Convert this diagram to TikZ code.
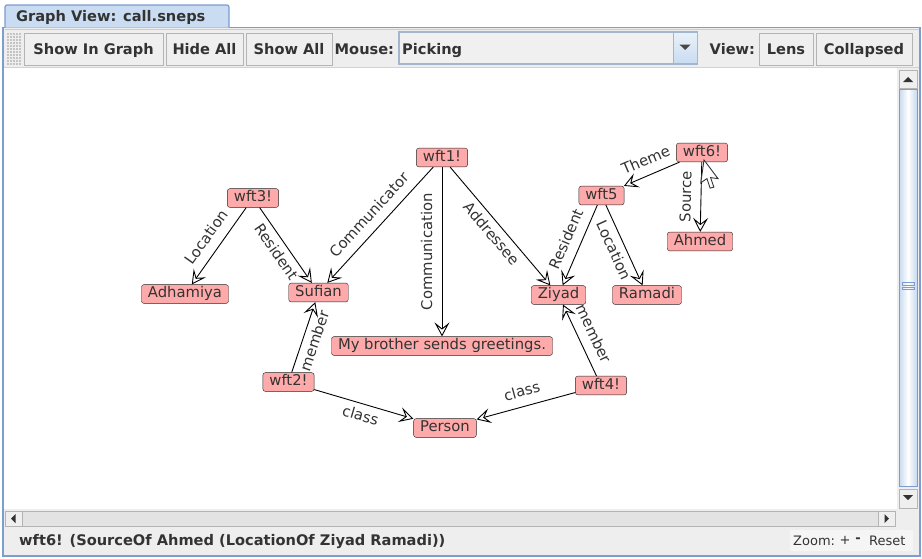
\documentclass[tikz,border=0pt]{standalone}
\usepackage{fontspec}
\setmainfont{DejaVu Sans}
\usetikzlibrary{arrows.meta}

\definecolor{vpink}{HTML}{FFAAAA}
\definecolor{txtgray}{HTML}{333333}
\definecolor{framblue}{HTML}{7D9CCF}
\definecolor{tabblue}{HTML}{C9DCF1}
\definecolor{panelgray}{HTML}{EEEEEE}
\definecolor{btnfill}{HTML}{EFEFEF}
\definecolor{btnedge}{HTML}{B4B4B4}
\definecolor{trackblue}{HTML}{C6D8EE}
\definecolor{combofill}{HTML}{F0F0F0}
\definecolor{comboedge}{HTML}{A3B6D0}
\definecolor{gripgray}{HTML}{C4C4C4}

\newcommand{\gfont}{\fontsize{14.8}{17}\selectfont}
\newcommand{\tbfont}{\fontsize{14.6}{17}\selectfont\bfseries}

\tikzset{
  vert/.style={draw=black!85, fill=vpink, rounded corners=2.5pt, text=txtgray,
    font=\gfont, inner xsep=6.5pt, inner ysep=2.5pt, text height=10.8pt, text depth=3pt},
  lbl/.style={font=\gfont, text=txtgray, inner xsep=0pt, inner ysep=7.5pt,
    text height=9pt, text depth=2pt},
  link/.style={draw=black, line width=0.9pt,
    -{Stealth[open, length=14pt, width=15pt, inset=6pt]}},
  btn/.style={draw=btnedge, fill=btnfill, minimum height=32pt, inner sep=0pt,
    font=\tbfont, text=txtgray, text height=10.5pt, text depth=0pt},
  tblabel/.style={anchor=west, inner sep=0pt, font=\tbfont, text=txtgray,
    text height=10.5pt, text depth=0pt},
  scrollbtn/.style={draw=btnedge, fill=btnfill},
}

\begin{document}
\begin{tikzpicture}[x=1pt, y=-1pt]
\useasboundingbox (0,0) rectangle (922,558);
\fill[white] (0,0) rectangle (922,558);

% window frame and tab
\fill[panelgray] (3,27.5) rectangle (920,556);
\draw[framblue, line width=1.2pt] (3,27.5) rectangle (920,556);
\draw[framblue!50, line width=1pt] (4.5,29) -- (918.5,29);
\draw[framblue, line width=1.2pt, fill=tabblue, rounded corners=2pt]
  (5,27.5) -- (5,5) -- (229,5) [sharp corners] -- (229,27.5);
\node[tblabel] (tabtitle) at (16,16.5) {Graph View: call.sneps};

% toolbar
\draw[btnedge!60] (4,67) -- (919,67);
\foreach \gx in {0,...,4}
  \foreach \gy in {0,...,10}
    \fill[gripgray] (7+3*\gx,33+3*\gy) rectangle ++(1.6,1.6);
\node[btn, minimum width=139pt] (showgraph) at (93.5,49) {Show In Graph};
\node[btn, minimum width=77pt] (hideall) at (204.5,49) {Hide All};
\node[btn, minimum width=86pt] (showall) at (289,49) {Show All};
\node[tblabel] (mouselbl) at (334.5,49) {Mouse:};
\node[draw=comboedge, fill=combofill, minimum width=298pt, minimum height=32pt,
  inner sep=0pt, line width=1.2pt] (combo) at (548,48) {};
\shade[top color=tabblue!40, bottom color=tabblue] (673,33) rectangle (697,63);
\draw[comboedge, line width=1pt] (673,32.5) rectangle (697,63.5);
\fill[txtgray!90] (679.5,44.5) -- (690.5,44.5) -- (685,50) -- cycle;
\node[tblabel] (mousemode) at (402,49) {Picking};
\node[tblabel] (viewlbl) at (709.5,49) {View:};
\node[btn, minimum width=54pt] (lens) at (786,49) {Lens};
\node[btn, minimum width=96pt] (collapsed) at (864,49) {Collapsed};

% canvas
\fill[white] (4,68) rectangle (897,509);

% vertical scrollbar
\draw[scrollbtn] (899,70) rectangle (917,88);
\fill[txtgray] (903,82) -- (913,82) -- (908,77) -- cycle;
\shade[left color=trackblue, right color=trackblue, middle color=white] (899,89) rectangle (917,486);
\draw[framblue] (899,89) rectangle (917,486);
\draw[framblue] (902,282.5) rectangle (914,285);
\draw[framblue] (902,287) rectangle (914,289.5);
\draw[scrollbtn] (899,489) rectangle (917,508);
\fill[txtgray] (903,495) -- (913,495) -- (908,500) -- cycle;

% horizontal scrollbar
\fill[btnfill!95!black] (22,511) rectangle (878,526);
\draw[btnedge] (22,511) rectangle (878,526);
\draw[scrollbtn] (5,511) rectangle (22,526);
\fill[txtgray] (11,518.5) -- (15.5,514) -- (15.5,523) -- cycle;
\draw[scrollbtn] (878,511) rectangle (895,526);
\fill[txtgray] (889,518.5) -- (884.5,514) -- (884.5,523) -- cycle;

% status bar
\node[tblabel] (status) at (19,540.5) {wft6! (SourceOf Ahmed (LocationOf Ziyad Ramadi))};
\fill[btnfill!60!white] (790,530) rectangle (913,551);
\node[anchor=west, inner sep=0pt, font=\fontsize{13}{15}\selectfont, text=txtgray]
  (zoomlbl) at (793,541) {Zoom:};
\node[inner sep=0pt, font=\fontsize{13}{15}\selectfont, text=txtgray] (zoomin) at (845,540) {+};
\node[inner sep=0pt, font=\fontsize{13}{15}\selectfont\bfseries, text=txtgray] (zoomout) at (858,540) {-};
\node[anchor=west, inner sep=0pt, font=\fontsize{13}{15}\selectfont, text=txtgray]
  (zoomreset) at (869,541) {Reset};

% graph nodes
\node[vert] (wft1) at (442,157.5) {wft1!};
\node[vert] (wft3) at (253,198) {wft3!};
\node[vert] (adhamiya) at (185,294) {Adhamiya};
\node[vert] (sufian) at (318.5,292.5) {Sufian};
\node[vert] (msg) at (442,346) {My brother sends greetings.};
\node[vert] (wft2) at (288.5,382) {wft2!};
\node[vert] (person) at (445,428) {Person};
\node[vert] (wft4) at (601,385.5) {wft4!};
\node[vert] (ziyad) at (558.5,295) {Ziyad};
\node[vert] (ramadi) at (647,295) {Ramadi};
\node[vert] (wft5) at (601.5,195.5) {wft5};
\node[vert] (wft6) at (702,152.5) {wft6!};
\node[vert] (ahmed) at (700,241.5) {Ahmed};

% graph edges
\draw[link] (wft1) -- node[lbl, sloped, above] {Communicator} (sufian);
\draw[link] (wft1) -- node[lbl, rotate=90, anchor=south] {Communication} (msg);
\draw[link] (wft1) -- node[lbl, sloped, below] {Addressee} (ziyad);
\draw[link] (wft3) -- node[lbl, sloped, above] {Location} (adhamiya);
\draw[link] (wft3) -- node[lbl, sloped, below] {Resident} (sufian);
\draw[link] (wft2) -- node[lbl, sloped, below] {member} (sufian);
\draw[link] (wft2) -- node[lbl, sloped, below] {class} (person);
\draw[link] (wft4) -- node[lbl, sloped, above] {class} (person);
\draw[link] (wft4) -- node[lbl, sloped, above] {member} (ziyad);
\draw[link] (wft5) -- node[lbl, sloped, above] {Resident} (ziyad);
\draw[link] (wft5) -- node[lbl, sloped, below] {Location} (ramadi);
\draw[link] (wft6) -- node[lbl, sloped, above] {Theme} (wft5);
\draw[link] (wft6) -- node[lbl, sloped, above] {Source} (ahmed);

% mouse pointer
\draw[txtgray, fill=white, line width=0.9pt, line join=miter, shift={(704,160)}, rotate=-8]
  (0,0) -- (0,23) -- (5.5,18) -- (10,27) -- (13.5,25.5) -- (9,16.5) -- (16.5,16.5) -- cycle;
\end{tikzpicture}
\end{document}
